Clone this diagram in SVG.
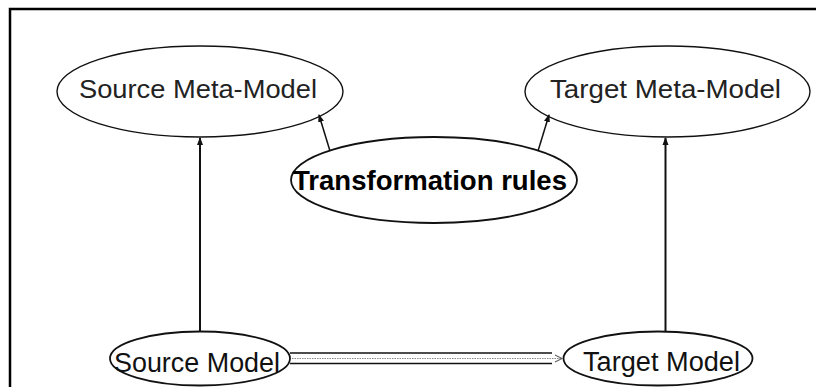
<svg xmlns="http://www.w3.org/2000/svg" width="816" height="387" viewBox="0 0 816 387">
<style>
.node ellipse{fill:none;stroke:#111;stroke-width:1.4}
.lbl{font-family:"Liberation Sans",Arial,sans-serif;font-size:26px;fill:#222;text-anchor:middle}
.bold{font-weight:bold;fill:#000;font-size:27px}
.conn{stroke:#111;fill:none}
</style>
<defs>
<marker id="ah" viewBox="0 0 8 8" refX="7" refY="4" markerWidth="8" markerHeight="8" markerUnits="userSpaceOnUse" orient="auto">
<path d="M0,1 L8,4 L0,7 Z" fill="#111"/>
</marker>
</defs>
<rect width="816" height="387" fill="#fff"/>
<path d="M10,387 V9 H816" fill="none" stroke="#000" stroke-width="2.5"/>
<g id="source-meta-model" class="node">
<ellipse cx="200" cy="91.5" rx="143" ry="45.5"/>
<text class="lbl" x="198" y="98" textLength="238" lengthAdjust="spacingAndGlyphs">Source Meta-Model</text>
</g>
<g id="target-meta-model" class="node">
<ellipse cx="667.5" cy="91.5" rx="142.5" ry="45.5"/>
<text class="lbl" x="665.5" y="98" textLength="231" lengthAdjust="spacingAndGlyphs">Target Meta-Model</text>
</g>
<g id="transformation-rules" class="node">
<ellipse cx="434" cy="180" rx="143" ry="43" style="stroke-width:1.8"/>
<text class="lbl bold" x="430" y="189.5" textLength="274" lengthAdjust="spacingAndGlyphs">Transformation rules</text>
</g>
<g id="source-model" class="node">
<ellipse cx="200" cy="358.5" rx="90" ry="27" style="stroke-width:1.8"/>
<text class="lbl" x="197" y="371.5" style="font-size:27px;fill:#111" textLength="166" lengthAdjust="spacingAndGlyphs">Source Model</text>
</g>
<g id="target-model" class="node">
<ellipse cx="658" cy="358.5" rx="94.5" ry="27" style="stroke-width:1.8"/>
<text class="lbl" x="661.5" y="371" style="font-size:27px;fill:#111" textLength="157" lengthAdjust="spacingAndGlyphs">Target Model</text>
</g>
<g id="connectors">
<line class="conn" x1="200" y1="332" x2="200" y2="138" stroke-width="2" marker-end="url(#ah)"/>
<line class="conn" x1="665.5" y1="332" x2="665.5" y2="138" stroke-width="2" marker-end="url(#ah)"/>
<line class="conn" x1="330" y1="151" x2="319" y2="115" stroke-width="1.5" marker-end="url(#ah)"/>
<line class="conn" x1="538" y1="151" x2="549" y2="115" stroke-width="1.5" marker-end="url(#ah)"/>
<line class="conn" x1="290" y1="353" x2="552" y2="353" stroke-width="1.6"/>
<line class="conn" x1="290" y1="363.5" x2="552" y2="363.5" stroke-width="1.6"/>
<line x1="292" y1="358.5" x2="561" y2="358.5" stroke="#888" stroke-width="1.2" stroke-dasharray="1.5,1"/>
<polyline points="555,355 562,358.5 555,362" fill="none" stroke="#666" stroke-width="1.2"/>
</g>
</svg>
